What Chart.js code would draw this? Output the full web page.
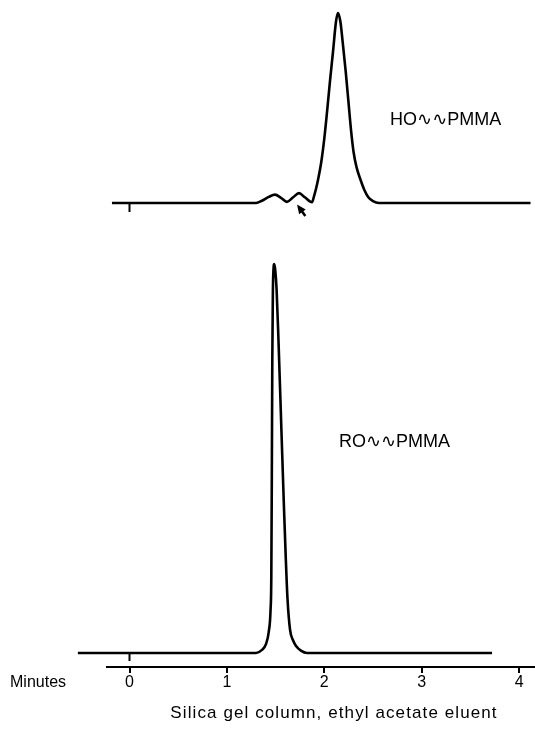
<!DOCTYPE html>
<html>
<head>
<meta charset="utf-8">
<script src="https://cdn.jsdelivr.net/npm/chart.js@4.4.0/dist/chart.umd.min.js"></script>
<style>
  html, body { margin: 0; padding: 0; background: #fff; }
  canvas { display: block; }
</style>
</head>
<body>
<canvas id="grafica" width="535" height="751"></canvas>
<script>
// Tiempos (min) y señal normalizada (pico = 1) de cada cromatograma
const RO_TIEMPO = [
  -0.53, 1.30, 1.36, 1.40, 1.43, 1.448, 1.456, 1.461, 1.466, 1.472, 1.478, 1.486,
  1.496, 1.51, 1.53, 1.56, 1.585, 1.605, 1.622, 1.648, 1.68, 1.71, 1.76, 1.822, 3.722,
];
const RO_SENAL = [
  0, 0, 0.008, 0.022, 0.055, 0.11, 0.2, 0.45, 0.75, 0.93, 0.985, 1.0,
  0.985, 0.935, 0.8, 0.57, 0.38, 0.24, 0.14, 0.06, 0.032, 0.018, 0.006, 0, 0,
];

const HO_TIEMPO = [
  -0.18, 1.30, 1.36, 1.43, 1.494, 1.555, 1.617, 1.68, 1.74, 1.80, 1.874, 1.894,
  1.915, 1.935, 1.97, 2.00, 2.03, 2.06, 2.09, 2.12, 2.14, 2.165, 2.19, 2.22,
  2.25, 2.275, 2.30, 2.33, 2.37, 2.41, 2.45, 2.50, 2.56, 4.117,
];
const HO_SENAL = [
  0, 0, 0.012, 0.032, 0.044, 0.027, 0.006, 0.03, 0.052, 0.03, 0.004, 0.035,
  0.075, 0.121, 0.22, 0.34, 0.49, 0.65, 0.80, 0.955, 1.0, 0.955, 0.84, 0.69,
  0.52, 0.38, 0.27, 0.19, 0.125, 0.07, 0.032, 0.01, 0, 0,
];

const MINUTOS = [0, 1, 2, 3, 4];

const ETIQUETAS = [
  { texto: "HO\u223F\u223FPMMA", t: 2.675, senal: 0.41, eje: "y2" },
  { texto: "RO\u223F\u223FPMMA", t: 2.15, senal: 0.53, eje: "y" },
];

const FUENTE = '"Liberation Sans", Arial, "DejaVu Sans", sans-serif';

function puntos(tiempos, senal) {
  return tiempos.map((t, i) => ({ x: t, y: senal[i] }));
}

// Marcas de inyeccion, flecha y textos
const extras = {
  id: "extras",
  afterDatasetsDraw(chart) {
    const { ctx, scales } = chart;
    const x = scales.x;
    ctx.save();
    ctx.strokeStyle = "#000";
    ctx.fillStyle = "#000";
    ctx.lineWidth = 2;

    [["y", 8], ["y2", 9]].forEach(([id, largo]) => {
      const px = x.getPixelForValue(0);
      const py = scales[id].getPixelForValue(0);
      ctx.beginPath();
      ctx.moveTo(px, py);
      ctx.lineTo(px, py + largo);
      ctx.stroke();
    });

    // flecha hacia el segundo hombro
    const punta = { x: x.getPixelForValue(1.72), y: scales.y2.getPixelForValue(-0.008) };
    const cola = { x: x.getPixelForValue(1.805), y: scales.y2.getPixelForValue(-0.068) };
    const ang = Math.atan2(punta.y - cola.y, punta.x - cola.x);
    ctx.lineWidth = 2.5;
    ctx.beginPath();
    ctx.moveTo(cola.x, cola.y);
    ctx.lineTo(punta.x - 5 * Math.cos(ang), punta.y - 5 * Math.sin(ang));
    ctx.stroke();
    ctx.beginPath();
    ctx.moveTo(punta.x, punta.y);
    ctx.lineTo(punta.x - 10 * Math.cos(ang - 0.42), punta.y - 10 * Math.sin(ang - 0.42));
    ctx.lineTo(punta.x - 10 * Math.cos(ang + 0.42), punta.y - 10 * Math.sin(ang + 0.42));
    ctx.closePath();
    ctx.fill();

    ctx.font = "18px " + FUENTE;
    ctx.textBaseline = "alphabetic";
    ctx.textAlign = "left";
    ETIQUETAS.forEach((e) => {
      ctx.fillText(e.texto, x.getPixelForValue(e.t), scales[e.eje].getPixelForValue(e.senal));
    });

    ctx.textBaseline = "middle";
    ctx.font = "16px " + FUENTE;
    ctx.fillText("Minutes", 10, x.top + 16);

    ctx.textAlign = "center";
    ctx.font = "17px " + FUENTE;
    ctx.letterSpacing = "1.1px";
    ctx.fillText("Silica gel column, ethyl acetate eluent", 334, x.top + 46);
    ctx.restore();
  },
};

const estiloTraza = {
  borderColor: "#000",
  borderWidth: 2.6,
  pointRadius: 0,
  fill: false,
  tension: 0.4,
  cubicInterpolationMode: "monotone",
  clip: false,
};

new Chart(document.getElementById("grafica"), {
  type: "line",
  data: {
    datasets: [
      { label: "RO-PMMA", data: puntos(RO_TIEMPO, RO_SENAL), yAxisID: "y", ...estiloTraza },
      { label: "HO-PMMA", data: puntos(HO_TIEMPO, HO_SENAL), yAxisID: "y2", ...estiloTraza },
    ],
  },
  options: {
    responsive: false,
    animation: false,
    events: [],
    layout: { padding: { left: 107, right: 0, top: 5, bottom: 0 } },
    plugins: {
      legend: { display: false },
      tooltip: { enabled: false },
    },
    scales: {
      x: {
        type: "linear",
        min: -0.231,
        max: 4.163,
        afterBuildTicks: (scale) => {
          scale.ticks = MINUTOS.map((v) => ({ value: v }));
        },
        afterFit: (scale) => {
          scale.height = 84;
        },
        border: { display: true, color: "#000", width: 2 },
        grid: {
          drawOnChartArea: false,
          drawTicks: true,
          tickLength: 6,
          color: "#000",
          lineWidth: 2,
        },
        ticks: {
          color: "#000",
          font: { family: FUENTE, size: 16 },
          padding: 0,
          maxRotation: 0,
          autoSkip: false,
          callback: (v) => String(v),
        },
      },
      y: { display: false, min: -0.036, max: 1.6658 },
      y2: { display: false, min: -2.4421, max: 1.0421 },
    },
  },
  plugins: [extras],
});
</script>
</body>
</html>
